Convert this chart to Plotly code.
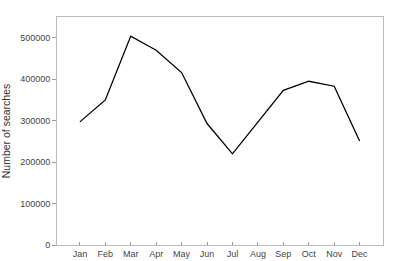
import plotly.graph_objects as go

months = ["Jan", "Feb", "Mar", "Apr", "May", "Jun", "Jul", "Aug", "Sep", "Oct", "Nov", "Dec"]
searches = [297000, 350000, 504000, 470000, 416000, 293000, 220000, 297000, 373000, 395000, 383000, 251000]
y_ticks = [0, 100000, 200000, 300000, 400000, 500000]

fig = go.Figure()
fig.add_trace(go.Scatter(
    x=list(range(len(months))), y=searches, mode="lines",
    line=dict(color="black", width=1.3), hoverinfo="skip",
))

font = dict(family="Liberation Sans, Arial, sans-serif", size=9, color="#444444")
fig.update_layout(
    width=400, height=261,
    margin=dict(l=57, r=17, t=17, b=16),
    paper_bgcolor="white", plot_bgcolor="white",
    showlegend=False,
    font=font,
)
fig.update_xaxes(
    range=[-0.9, 11.92], automargin=False,
    tickmode="array", tickvals=list(range(len(months))), ticktext=months,
    ticks="inside", ticklen=3, tickcolor="#999999",
    showline=True, linecolor="#bbbbbb", linewidth=1, mirror=True,
    showgrid=False, zeroline=False,
    tickfont=font,
)
fig.update_yaxes(
    range=[0, 550000], automargin=False,
    tickmode="array", tickvals=y_ticks, ticktext=[str(v) for v in y_ticks],
    ticks="outside", ticklen=4, tickcolor="#999999",
    showline=True, linecolor="#bbbbbb", linewidth=1, mirror=True,
    showgrid=False, zeroline=False,
    tickfont=font,
    title=dict(text="Number of searches", font=dict(family="Liberation Sans, Arial, sans-serif", size=10.5, color="#333333"), standoff=8),
)

fig.write_html("out.html")
